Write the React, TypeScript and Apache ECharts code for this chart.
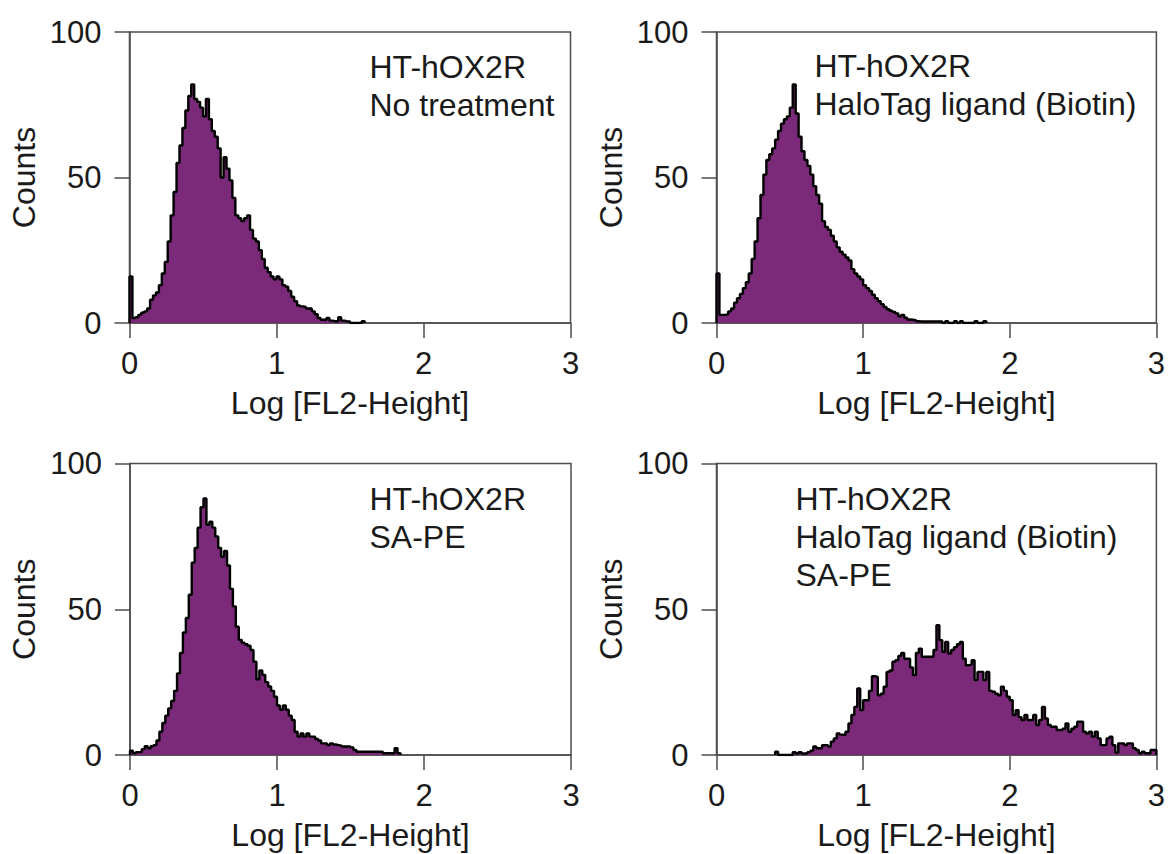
import React, { useEffect, useRef } from "react";
import * as echarts from "echarts";

// ---- Data ----
const BIN_WIDTH = 0.02; // log units per histogram channel
const X_MIN = 0;
const X_MAX = 3;
const X_INTERVAL = 1;
const Y_MIN = 0;
const Y_MAX = 100;
const Y_INTERVAL = 50;

const X_NAME = "Log [FL2-Height]";
const Y_NAME = "Counts";

const PANEL_LABELS = [
  ["HT-hOX2R", "No treatment"],
  ["HT-hOX2R", "HaloTag ligand (Biotin)"],
  ["HT-hOX2R", "SA-PE"],
  ["HT-hOX2R", "HaloTag ligand (Biotin)", "SA-PE"],
];

// first channel index of each series
const START_BINS = [0, 0, 0, 20];

const COUNTS_NO_TREATMENT = [
  16, 1.7, 2, 2.8, 3.5, 4, 5, 8, 9.5, 10.5, 13, 17, 21, 28, 37, 45, 55, 61, 67, 73,
  78, 82, 77, 76, 74, 71, 77, 70, 66, 64, 60, 50, 57, 53, 49, 43, 37, 36, 35, 36,
  37, 32, 29, 28, 25, 22, 19, 17.5, 16, 15, 16, 15, 13, 12.5, 11, 9, 7.5, 6, 5.7, 5.5,
  5, 5, 4, 3, 1.7, 1.1, 1.1, 1.7, 0.8, 0.6, 0.6, 2, 0.8, 0.6, 0.5, 0, 0, 0, 0, 0.6,
];

const COUNTS_BIOTIN = [
  17, 2.8, 2.8, 3, 4, 5, 7, 8.5, 10, 12, 14, 17, 22, 28, 36, 44, 51, 56, 58, 60,
  63, 66, 68.5, 70, 71, 74, 82, 72, 64, 59, 56, 54, 51, 47, 44, 41, 35, 33, 32, 30,
  28, 26, 24.5, 23.5, 22.5, 21.5, 18.5, 17, 16, 15, 13, 12, 11, 9.7, 8.5, 7.5, 6.5, 5.5, 4.7, 4.2,
  3.8, 3.3, 2.3, 2.8, 1.8, 1.2, 1.1, 1, 0.6, 0.5, 0.5, 0.5, 0.5, 0.5, 0.5, 0.5, 0.5, 0, 0.6, 0,
  0, 0.6, 0, 0.6, 0, 0, 0, 0, 0.6, 0, 0, 0.6,
];

const COUNTS_SAPE = [
  1.5, 0.6, 1, 1, 2, 3, 2.3, 3, 3.4, 5, 8, 11, 13.5, 16, 18.5, 22, 28, 35, 42, 47,
  55, 66, 71, 78, 85, 88, 79, 80, 78, 75, 71, 68, 70, 65, 57, 51, 44, 39.5, 38.5, 38,
  37.5, 36, 32, 26, 29, 27.5, 25, 23.5, 22, 20, 17, 15.5, 17, 15.5, 13.5, 12, 8, 6.3, 7.4, 6.3,
  7.4, 6.3, 6.3, 5.5, 5, 4, 4, 3.4, 4, 3.6, 3.4, 3.2, 2.9, 2.9, 2.9, 2.6, 1.7, 1.1, 1.1, 1.1,
  1.1, 1.1, 1.1, 1.1, 1.1, 1.1, 0.6, 0.6, 0.6, 0.6, 2.3, 0.6,
];

const COUNTS_BIOTIN_SAPE = [
  1.1, 0, 0, 0, 0, 0, 1, 0.5, 1, 0.5, 0.5, 1, 1.5, 2.9, 2.3, 2.3, 3.4, 3.4, 2.9, 4.6,
  5.7, 7.4, 7, 6.8, 8, 10.8, 13.7, 16.5, 22.8, 15.4, 18.8, 18.8, 22, 27, 26.8, 20.5, 21, 23.4, 28.5, 29,
  32, 32.5, 34, 35, 33, 33, 30, 27.4, 35, 36.5, 33.7, 33.7, 33.7, 33.7, 36, 44.5, 39.4, 35.4, 38.8, 34.8,
  36, 37, 38, 38.8, 33, 30.8, 31, 32.5, 25.7, 28.5, 28.5, 25.7, 28.5, 22, 21.7, 21, 20.5, 23.4, 22, 20,
  18.8, 13.7, 15.4, 13, 12, 13.7, 12, 12, 13.7, 10.3, 12, 16.5, 12.5, 10.3, 9.7, 9.7, 8.6, 8.6, 9, 10.8,
  8, 9, 9.7, 11.4, 11.4, 8, 7.4, 8, 6.3, 8, 5.7, 3.4, 3.4, 5.7, 6.3, 3.4, 0.8, 4, 4, 3.4,
  4, 4, 2.3, 1.7, 0.6, 1.1, 0.6, 0.6, 1.7, 1.7,
];

const SERIES_COUNTS = [COUNTS_NO_TREATMENT, COUNTS_BIOTIN, COUNTS_SAPE, COUNTS_BIOTIN_SAPE];

// ---- Layout / style ----
const FONT = "'Liberation Sans', Arial, Helvetica, sans-serif";
const TICK_FONT_SIZE = 31;
const NAME_FONT_SIZE = 32;
const TEXT_COLOR = "#1a1a1a";
const AXIS_COLOR = "#4d4d4d";
const FILL_COLOR = "#7a2a78";
const OUTLINE_COLOR = "#000000";

const GRIDS = [
  { left: 129.5, top: 32, width: 441, height: 291 },
  { left: 716.5, top: 32, width: 441, height: 291 },
  { left: 130, top: 463.5, width: 441, height: 291.5 },
  { left: 716.5, top: 463.5, width: 441, height: 291.5 },
];

const LABEL_POS = [
  { x: 369.5, y: 47.5 },
  { x: 814.5, y: 47 },
  { x: 369.5, y: 480 },
  { x: 795.5, y: 479.5 },
];

function toSteps(counts: number[], startBin: number): number[][] {
  const pts: number[][] = [[startBin * BIN_WIDTH, 0]];
  counts.forEach((c, i) => pts.push([(startBin + i) * BIN_WIDTH, c]));
  pts.push([(startBin + counts.length) * BIN_WIDTH, 0]);
  return pts;
}

export default function App() {
  const ref = useRef<HTMLDivElement | null>(null);

  useEffect(() => {
    if (!ref.current) return;
    const chart = echarts.init(ref.current, null, { renderer: "svg" });
    const axisLine = { show: true, lineStyle: { color: AXIS_COLOR, width: 1.5 } };
    const axisTick = { show: true, inside: false, length: 15, lineStyle: { color: AXIS_COLOR, width: 1.5 } };

    const option: any = {
      animation: false,
      backgroundColor: "#ffffff",
      grid: GRIDS.map((g) => ({
        ...g,
        show: true,
        borderColor: AXIS_COLOR,
        borderWidth: 1.5,
        backgroundColor: "transparent",
        containLabel: false,
      })),
      xAxis: GRIDS.map((_, i) => ({
        gridIndex: i,
        type: "value",
        min: X_MIN,
        max: X_MAX,
        interval: X_INTERVAL,
        axisLine,
        axisTick,
        splitLine: { show: false },
        axisLabel: { fontSize: TICK_FONT_SIZE, fontFamily: FONT, color: TEXT_COLOR, margin: 25 },
        name: X_NAME,
        nameLocation: "middle",
        nameGap: 64,
        nameTextStyle: { fontSize: NAME_FONT_SIZE, fontFamily: FONT, color: TEXT_COLOR },
      })),
      yAxis: GRIDS.map((_, i) => ({
        gridIndex: i,
        type: "value",
        min: Y_MIN,
        max: Y_MAX,
        interval: Y_INTERVAL,
        axisLine,
        axisTick,
        splitLine: { show: false },
        axisLabel: {
          fontSize: TICK_FONT_SIZE,
          fontFamily: FONT,
          color: TEXT_COLOR,
          margin: 28,
          verticalAlign: "middle",
          padding: [0, 0, 17, 0],
        },
        name: Y_NAME,
        nameLocation: "middle",
        nameGap: 90,
        nameTextStyle: { fontSize: NAME_FONT_SIZE, fontFamily: FONT, color: TEXT_COLOR },
      })),
      series: SERIES_COUNTS.map((counts, i) => ({
        type: "line",
        xAxisIndex: i,
        yAxisIndex: i,
        step: "end",
        symbol: "none",
        clip: true,
        z: 3,
        lineStyle: { color: OUTLINE_COLOR, width: 2.4 },
        areaStyle: { color: FILL_COLOR, opacity: 1 },
        data: toSteps(counts, START_BINS[i]),
      })),
      graphic: PANEL_LABELS.map((lines, i) => ({
        type: "text",
        x: LABEL_POS[i].x,
        y: LABEL_POS[i].y,
        z: 10,
        style: {
          text: lines.join("\n"),
          fontSize: NAME_FONT_SIZE,
          fontFamily: FONT,
          fill: TEXT_COLOR,
          lineHeight: 38,
          verticalAlign: "top",
          align: "left",
        },
      })),
    };

    chart.setOption(option);
    return () => chart.dispose();
  }, []);

  return (
    <div
      ref={ref}
      style={{ position: "absolute", left: 0, top: 0, width: 1168, height: 854 }}
    />
  );
}
